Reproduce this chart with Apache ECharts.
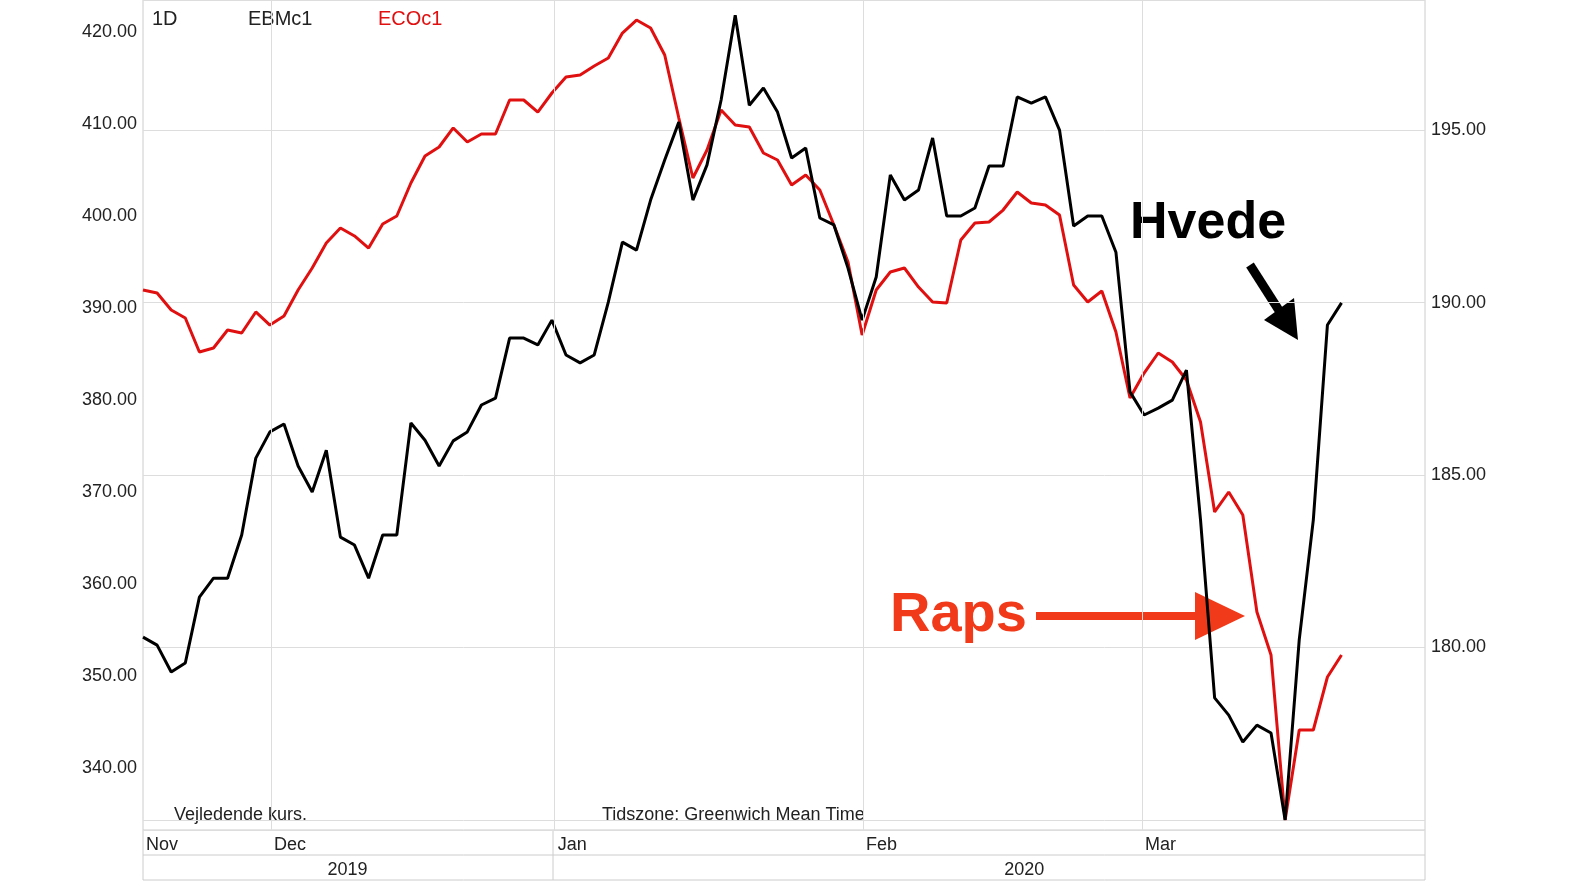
<!DOCTYPE html>
<html><head><meta charset="utf-8">
<script src="https://cdn.jsdelivr.net/npm/echarts@6/dist/echarts.min.js"></script>
<style>html,body{margin:0;padding:0;background:#fff;overflow:hidden}#c{width:100vw;height:100vh}</style>
</head><body><div id="c"></div>
<script>
const wheat = [180.30,180.07,179.29,179.55,181.46,182.01,182.01,183.26,185.49,186.25,186.48,185.26,184.51,185.72,183.20,182.97,182.01,183.26,183.26,186.51,186.01,185.26,185.99,186.25,187.03,187.23,188.97,188.97,188.77,189.49,188.48,188.25,188.48,190.01,191.75,191.52,192.97,194.13,195.23,192.97,193.99,195.87,198.33,195.72,196.22,195.52,194.19,194.48,192.45,192.25,191.0,189.49,190.74,193.70,192.97,193.26,194.77,192.51,192.51,192.74,193.96,193.96,195.96,195.78,195.96,195.0,192.22,192.51,192.51,191.46,187.41,186.74,186.94,187.17,188.04,183.70,178.54,178.04,177.26,177.75,177.52,175.0,180.22,183.70,189.35,189.99];
const rapeseed = [391.96,391.63,389.78,388.91,385.22,385.65,387.61,387.28,389.57,388.15,389.13,391.96,394.35,397.07,398.70,397.83,396.52,399.13,400.0,403.59,406.52,407.5,409.57,408.04,408.91,408.91,412.61,412.61,411.30,413.37,415.11,415.33,416.30,417.17,419.89,421.30,420.43,417.5,410.65,404.13,407.17,411.52,409.89,409.67,406.85,406.09,403.37,404.46,402.83,399.02,395.0,387.07,391.96,393.91,394.35,392.28,390.65,390.54,397.39,399.24,399.35,400.65,402.61,401.41,401.20,400.11,392.5,390.65,391.85,387.39,380.22,382.93,385.11,384.13,382.17,377.61,367.83,370.0,367.5,356.96,352.28,334.35,344.13,344.13,349.89,352.28];
const leftTicks = [340,350,360,370,380,390,400,410,420];
const rightTicks = [180,185,190,195];
const monthNames = ['Nov','Dec','Jan','Feb','Mar'];
const monthPos = [0,9.08,29.2,51.06,70.85];
const yearNames = ['2019','2020'];
const yearPos = [14.5,62.5];

const chart = echarts.init(document.getElementById('c'));
const F = 'Liberation Sans, Arial, sans-serif';
const lab = {color:'#222',fontSize:18,fontFamily:F};
chart.setOption({
  animation:false,
  grid:{left:143,right:157,top:0,bottom:60,show:true,borderColor:'#ccc',borderWidth:1},
  xAxis:[{type:'value',min:0,max:90.92,
    axisLine:{show:false},axisTick:{show:false},splitLine:{show:false},
    axisLabel:{...lab,customValues:monthPos,align:'left',margin:6,padding:[0,0,0,3],
      formatter:v=>monthNames[monthPos.indexOf(v)]||''}},
   {type:'value',min:0,max:90.92,position:'bottom',offset:25,gridIndex:0,
    axisLine:{show:false},axisTick:{show:false},splitLine:{show:false},
    axisLabel:{...lab,customValues:yearPos,align:'center',margin:6,
      formatter:v=>yearNames[yearPos.indexOf(v)]||''}}],
  yAxis:[{type:'value',min:333.26,max:423.48,position:'left',
    axisLine:{show:false},axisTick:{show:false},splitLine:{show:false},
    axisLabel:{...lab,customValues:leftTicks,margin:6,formatter:v=>v.toFixed(2)}},
   {type:'value',min:174.71,max:198.77,position:'right',
    axisLine:{show:false},axisTick:{show:false},
    splitLine:{show:true,lineStyle:{color:'#ddd',width:1}},
    axisLabel:{...lab,customValues:rightTicks,margin:6,formatter:v=>v.toFixed(2)}}],
  series:[
   {type:'line',name:'ECOc1',yAxisIndex:0,data:rapeseed.map((v,i)=>[i,v]),showSymbol:false,
    lineStyle:{color:'#e01010',width:3},
    markLine:{silent:true,symbol:'none',label:{show:false},lineStyle:{color:'#ddd',type:'solid',width:1},
      data:monthPos.slice(1).map(p=>({xAxis:p}))}},
   {type:'line',name:'EBMc1',yAxisIndex:1,data:wheat.map((v,i)=>[i,v]),showSymbol:false,
    lineStyle:{color:'#000',width:3}}
  ],
  graphic:[
   {type:'line',shape:{x1:143,y1:855,x2:1425,y2:855},style:{stroke:'#ccc'}},
   {type:'line',shape:{x1:143,y1:880,x2:1425,y2:880},style:{stroke:'#ccc'}},
   {type:'line',shape:{x1:143,y1:830,x2:143,y2:880},style:{stroke:'#ccc'}},
   {type:'line',shape:{x1:1425,y1:830,x2:1425,y2:880},style:{stroke:'#ccc'}},
   {type:'line',shape:{x1:553,y1:830,x2:553,y2:880},style:{stroke:'#ccc'}},
   {type:'text',left:152,top:9,style:{text:'1D',fill:'#222',font:'20px '+F}},
   {type:'text',left:248,top:9,style:{text:'EBMc1',fill:'#222',font:'20px '+F}},
   {type:'text',left:378,top:9,style:{text:'ECOc1',fill:'#e01010',font:'20px '+F}},
   {type:'text',left:174,top:806,style:{text:'Vejledende kurs.',fill:'#222',font:'18px '+F}},
   {type:'text',left:602,top:806,style:{text:'Tidszone: Greenwich Mean Time',fill:'#222',font:'18px '+F}},
   {type:'text',left:1130,top:198,style:{text:'Hvede',fill:'#000',font:'bold 52px '+F}},
   {type:'line',shape:{x1:1250,y1:265,x2:1280,y2:312},style:{stroke:'#000',lineWidth:9}},
   {type:'polygon',shape:{points:[[1264,320],[1294,298],[1298,340]]},style:{fill:'#000'}},
   {type:'text',left:890,top:588,style:{text:'Raps',fill:'#f03a1a',font:'bold 56px '+F}},
   {type:'line',shape:{x1:1036,y1:616,x2:1200,y2:616},style:{stroke:'#f03a1a',lineWidth:8}},
   {type:'polygon',shape:{points:[[1195,592],[1245,616],[1195,640]]},style:{fill:'#f03a1a'}}
  ]
});
</script></body></html>
